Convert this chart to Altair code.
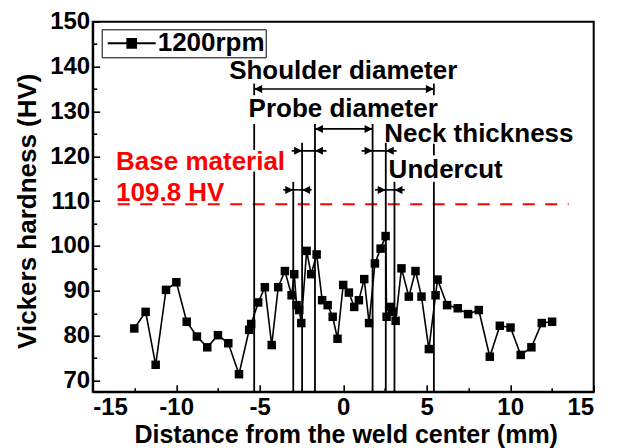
import altair as alt
import pandas as pd

FONT = "Liberation Sans"

# ---- data ----
dist = [-12.51, -11.83, -11.23, -10.61, -9.99, -9.37, -8.76, -8.14, -7.50, -6.88,
        -6.24, -5.63, -5.51, -5.09, -4.69, -4.28, -3.89, -3.49, -3.09, -2.93,
        -2.79, -2.63, -2.51, -2.19, -1.92, -1.59, -1.26, -0.93, -0.63, -0.34,
        0.0, 0.34, 0.66, 0.94, 1.26, 1.55, 1.90, 2.24, 2.54, 2.60,
        2.84, 2.99, 3.14, 3.49, 3.93, 4.33, 4.69, 5.13, 5.53, 5.65,
        6.22, 6.86, 7.48, 8.12, 8.78, 9.38, 10.02, 10.63, 11.27, 11.89, 12.51]
hv = [81.6, 85.3, 73.5, 90.2, 91.9, 83.1, 79.8, 77.4, 80.1, 78.3,
      71.4, 81.3, 82.6, 87.4, 90.8, 77.9, 90.8, 94.4, 89.0, 93.7,
      86.8, 85.7, 82.8, 98.9, 93.7, 98.1, 87.9, 86.8, 84.2, 79.3,
      91.3, 89.6, 86.4, 87.9, 92.6, 82.8, 96.1, 99.4, 102.2, 84.2,
      86.4, 85.3, 83.3, 95.0, 88.7, 94.4, 88.7, 77.0, 89.0, 92.5,
      86.8, 86.1, 84.8, 85.7, 75.3, 82.2, 81.8, 75.7, 77.4, 82.8, 83.1]
series_name = "1200rpm"

x_major = [-15, -10, -5, 0, 5, 10, 15]
x_minor = [-12.5, -7.5, -2.5, 2.5, 7.5, 12.5]
y_major = [70, 80, 90, 100, 110, 120, 130, 140, 150]
y_minor = [75, 85, 95, 105, 115, 125, 135, 145]

base_value = 109.3
base_x = [-13.5, 13.5]
base_labels = ["Base material", "109.8 HV"]
base_label_x = [-13.6, -13.6]
base_label_y = [117.0, 110.0]

# vertical guide lines: x, top, bottom
vl_x = [-5.33, -5.33, -5.33, -2.99, -2.46, -1.69, 1.76, 2.55, 3.07, 5.43, 5.43, 5.43]
vl_top = [127.2, 116.6, 136.2, 114.3, 123.0, 127.2, 127.2, 123.0, 114.3, 122.8, 114.3, 136.2]
vl_bot = [121.4, 67.5, 133.6, 67.5, 67.5, 67.5, 67.5, 67.5, 67.5, 120.2, 67.5, 133.6]

# horizontal dimension arrows
arr_x1 = [-5.33, -1.69, -3.08, 1.10, -3.59, 1.90]
arr_x2 = [5.43, 1.76, -1.00, 3.20, -1.89, 3.69]
arr_y = [135.0, 126.1, 121.2, 121.2, 112.5, 112.5]
head_left_x = [-5.33, -1.69, -1.69, 2.55, -2.46, 3.07]
head_left_y = [135.0, 126.1, 121.2, 121.2, 112.5, 112.5]
head_right_x = [5.43, 1.76, -2.46, 1.76, -2.99, 2.55]
head_right_y = [135.0, 126.1, 121.2, 121.2, 112.5, 112.5]

center_labels = ["Shoulder diameter", "Probe diameter"]
center_label_x = [0.0, 0.0]
center_label_y = [137.2, 128.7]
left_labels = ["Neck thickness", "Undercut"]
left_label_x = [2.46, 2.72]
left_label_y = [123.1, 115.2]

# ---- tables ----
main_df = pd.DataFrame({"x": dist, "y": hv, "series": series_name})
vl_df = pd.DataFrame({"x": vl_x, "y": vl_top, "y2": vl_bot})
arr_df = pd.DataFrame({"x": arr_x1, "x2": arr_x2, "y": arr_y})
hl_df = pd.DataFrame({"x": head_left_x, "y": head_left_y})
hr_df = pd.DataFrame({"x": head_right_x, "y": head_right_y})
base_df = pd.DataFrame({"x": [base_x[0]], "x2": [base_x[1]], "y": [base_value]})
base_lab_df = pd.DataFrame({"x": base_label_x, "y": base_label_y, "t": base_labels})
c_lab_df = pd.DataFrame({"x": center_label_x, "y": center_label_y, "t": center_labels})
l_lab_df = pd.DataFrame({"x": left_label_x, "y": left_label_y, "t": left_labels})

xs = alt.Scale(domain=[-15, 15], nice=False, zero=False)
ys = alt.Scale(domain=[67.5, 150], nice=False, zero=False)

lab = dict(labelFont=FONT, labelFontSize=24, labelFontWeight="bold", labelColor="black",
           labelExpr="'' + datum.value")
ttl = dict(titleFont=FONT, titleFontWeight="bold", titleColor="black")

x_axis = alt.Axis(values=x_major, orient="bottom", tickSize={"expr": "-7"},
                  labelBaseline="alphabetic", labelPadding=30.3,
                  title="Distance from the weld center (mm)", titleFontSize=25,
                  titleX=253, titleY=51,
                  titleBaseline="alphabetic", titleAlign="center", **lab, **ttl)
y_axis = alt.Axis(values=y_major, orient="left", tickSize={"expr": "-7"}, labelPadding=10,
                  title="Vickers hardness (HV)", titleFontSize=26,
                  titleX=-57, titleY=189, titleAngle=-90,
                  titleBaseline="alphabetic", titleAlign="center", **lab, **ttl)
x_axis_minor = alt.Axis(values=x_minor, orient="bottom", tickSize={"expr": "-4"},
                        labels=False, domain=False, title=None)
y_axis_minor = alt.Axis(values=y_minor, orient="left", tickSize={"expr": "-4"},
                        labels=False, domain=False, title=None)


def X(f, axis=None):
    return alt.X(f, type="quantitative", scale=xs, axis=axis)


def Y(f, axis=None):
    return alt.Y(f, type="quantitative", scale=ys, axis=axis)


line = alt.Chart(main_df).mark_line(color="black", strokeWidth=1.6).encode(
    x=X("x", x_axis), y=Y("y", y_axis))

legend = alt.Legend(
    title=None, orient="none", legendX=9, legendY=7.6, padding=1,
    symbolType="M-4.8,0H4.8M-0.87,-0.87H0.87V0.87H-0.87Z", symbolSize=100,
    symbolOffset=16, labelOffset=13,
    symbolFillColor="black", symbolStrokeColor="black", symbolStrokeWidth=2,
    symbolOpacity=1, strokeColor="black",
    labelFont=FONT, labelFontSize=26, labelFontWeight="bold", labelColor="black")

pts = alt.Chart(main_df).mark_point(shape="square", filled=True, size=72, opacity=1).encode(
    x=X("x"), y=Y("y"),
    color=alt.Color("series:N", scale=alt.Scale(range=["#000000"]), legend=legend))

minor = alt.Chart(main_df).mark_point(opacity=0).encode(
    x=X("x", x_axis_minor), y=Y("y", y_axis_minor))

vlines = alt.Chart(vl_df).mark_rule(color="black", strokeWidth=1.8).encode(
    x=X("x"), y=Y("y"), y2="y2:Q")

arrows = alt.Chart(arr_df).mark_rule(color="black", strokeWidth=1.6).encode(
    x=X("x"), x2="x2:Q", y=Y("y"))

heads_l = alt.Chart(hl_df).mark_point(shape="M0,0L2,-1L2,1Z", filled=True, size=64,
                                      color="black", opacity=1).encode(x=X("x"), y=Y("y"))
heads_r = alt.Chart(hr_df).mark_point(shape="M0,0L-2,-1L-2,1Z", filled=True, size=64,
                                      color="black", opacity=1).encode(x=X("x"), y=Y("y"))

base_line = alt.Chart(base_df).mark_rule(color="#ff0000", strokeWidth=2,
                                         strokeDash=[12, 10.5]).encode(
    x=X("x"), x2="x2:Q", y=Y("y"))

txt = dict(font=FONT, fontSize=26, fontWeight="bold", baseline="alphabetic")
base_text = alt.Chart(base_lab_df).mark_text(align="left", color="#ff0000", **txt).encode(
    x=X("x"), y=Y("y"), text="t:N")
c_text = alt.Chart(c_lab_df).mark_text(align="center", color="black", **txt).encode(
    x=X("x"), y=Y("y"), text="t:N")
l_text = alt.Chart(l_lab_df).mark_text(align="left", color="black", **txt).encode(
    x=X("x"), y=Y("y"), text="t:N")

chart = alt.layer(
    minor, line, base_line, vlines, arrows, heads_l, heads_r, pts,
    base_text, c_text, l_text
).resolve_axis(x="independent", y="independent").properties(
    width=501, height=370,
    autosize=alt.AutoSizeParams(type="none"),
    padding={"left": 84.7, "top": 13.7, "right": 20, "bottom": 56},
).configure_view(stroke="black", strokeWidth=2).configure_axis(
    domainColor="black", domainWidth=2, tickColor="black", tickWidth=1.6, grid=False
)

chart.save("out.html", embed_options={"renderer": "svg", "actions": False})
